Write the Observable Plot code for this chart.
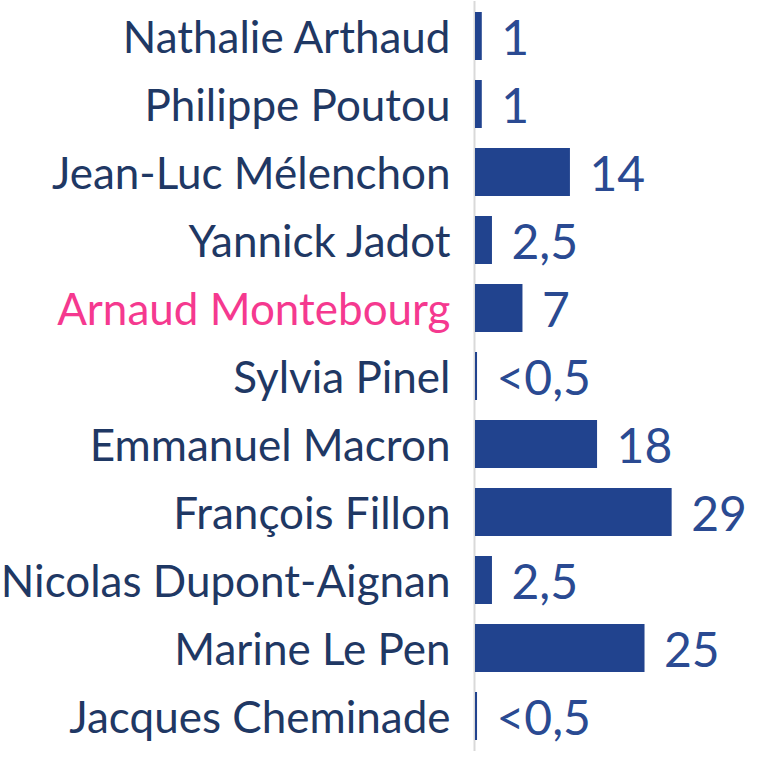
<!DOCTYPE html>
<html>
<head>
<meta charset="utf-8">
<script src="https://cdn.jsdelivr.net/npm/d3@7"></script>
<script src="https://cdn.jsdelivr.net/npm/@observablehq/plot@0.6"></script>
<style>
  html, body { margin: 0; padding: 0; background: #fff; }
  svg { display: block; }
</style>
</head>
<body>
<div id="chart"></div>
<script>
const candidates = ["Nathalie Arthaud", "Philippe Poutou", "Jean-Luc Mélenchon", "Yannick Jadot", "Arnaud Montebourg", "Sylvia Pinel", "Emmanuel Macron", "François Fillon", "Nicolas Dupont-Aignan", "Marine Le Pen", "Jacques Cheminade"];
const values = [1, 1, 14, 2.5, 7, 0.3, 18, 29, 2.5, 25, 0.3];
const valueLabels = ["1", "1", "14", "2,5", "7", "<0,5", "18", "29", "2,5", "25", "<0,5"];
const highlighted = "Arnaud Montebourg";

const data = candidates.map((name, i) => ({name, value: values[i], label: valueLabels[i]}));

const navy = "#1f3864";
const barBlue = "#21438e";
const pink = "#f5398f";
const font = "Lato, 'Open Sans', sans-serif";

const chart = Plot.plot({
  width: 772,
  height: 769,
  marginLeft: 475,
  marginRight: 0,
  marginTop: 1,
  marginBottom: 18,
  style: {fontFamily: font, background: "#fff"},
  x: {domain: [0, 43.8], axis: null},
  y: {domain: candidates, paddingInner: 0.3, paddingOuter: 0.15, axis: null},
  marks: [
    Plot.ruleX([0], {stroke: "#d9d9d9", strokeWidth: 2, dx: -1}),
    Plot.barX(data, {y: "name", x: "value", fill: barBlue}),
    Plot.text(data, {
      y: "name", x: 0, text: "name", textAnchor: "end", dx: -25, dy: 2,
      fill: d => d.name === highlighted ? pink : navy,
      fontSize: 44
    }),
    Plot.text(data, {
      y: "name", x: "value", text: "label", textAnchor: "start", dx: 19, dy: 3,
      fill: "#2a4a92", fontSize: 48
    })
  ]
});
document.getElementById("chart").appendChild(chart);
</script>
</body>
</html>
